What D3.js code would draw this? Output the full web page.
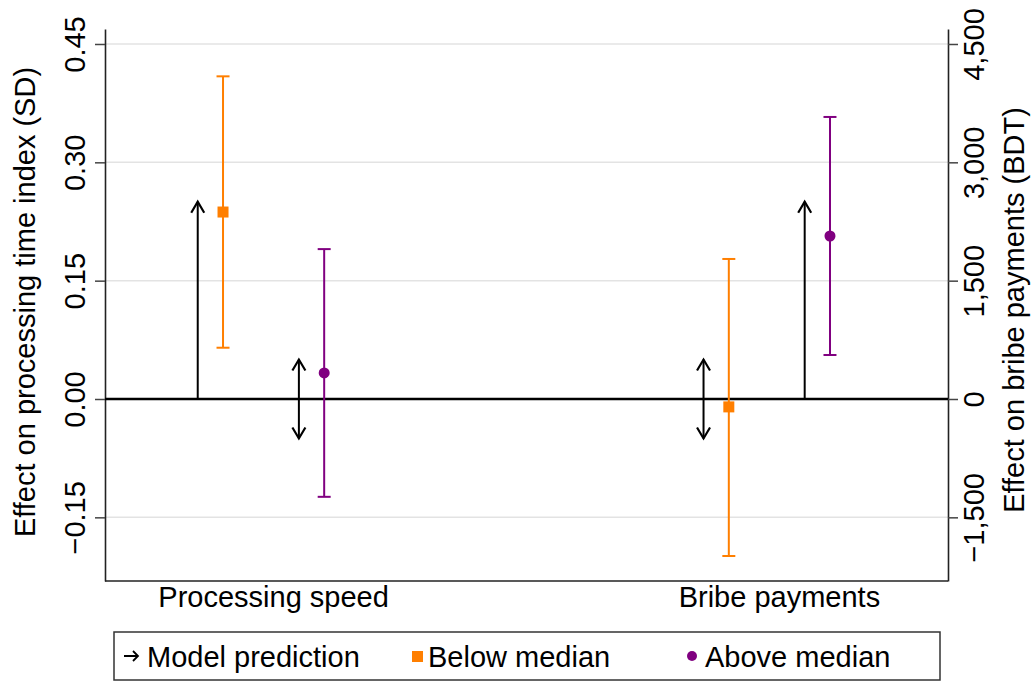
<!DOCTYPE html>
<html>
<head>
<meta charset="utf-8">
<script src="https://cdn.jsdelivr.net/npm/d3@7"></script>
<style>
  body { margin: 0; background: #fff; }
  text { font-family: "Liberation Sans", Arial, Helvetica, sans-serif; fill: #000; }
</style>
</head>
<body>
<div id="chart"></div>
<script>
// Chart data (processing speed in SD, bribe payments in BDT)
const categories = ["Processing speed", "Bribe payments"];
const groups = ["Below median", "Above median"];

const estBelow = [0.237, -100];
const ciBelowLo = [0.065, -1990];
const ciBelowHi = [0.409, 1775];

const estAbove = [0.033, 2066];
const ciAboveLo = [-0.124, 558];
const ciAboveHi = [0.190, 3575];

// model prediction: "up" = positive effect, "both" = ambiguous sign
const predBelow = ["up", "both"];
const predAbove = ["both", "up"];
const predUpLength = [0.25, 2500];
const predBothHalf = [0.05, 500];

const leftTicks = [-0.15, 0, 0.15, 0.30, 0.45];
const rightTicks = [-1500, 0, 1500, 3000, 4500];

const WIDTH = 1034, HEIGHT = 681;
const PLOT = {left: 105, right: 948, top: 29, bottom: 581};
const ORANGE = "#ff7f00", PURPLE = "#800080";

const svg = d3.select("#chart").append("svg")
    .attr("width", WIDTH)
    .attr("height", HEIGHT);

const xScale = d3.scaleLinear()
    .domain([-1/3, 4/3])
    .range([PLOT.left, PLOT.right]);

const yLeft = d3.scaleLinear()
    .domain([-0.2307, 0.469])
    .range([PLOT.bottom, PLOT.top]);

const yRight = d3.scaleLinear()
    .domain([-2307, 4690])
    .range([PLOT.bottom, PLOT.top]);

const yScales = [yLeft, yRight];

// gridlines
svg.append("g")
  .selectAll("line")
  .data(leftTicks.filter(d => d !== 0))
  .enter()
  .append("line")
    .attr("x1", PLOT.left)
    .attr("x2", PLOT.right)
    .attr("y1", d => yLeft(d))
    .attr("y2", d => yLeft(d))
    .attr("stroke", "#e3e3e3")
    .attr("stroke-width", 1.5);

// left axis
const axL = svg.append("g")
    .attr("transform", "translate(" + PLOT.left + ",0)")
    .call(d3.axisLeft(yLeft).tickValues(leftTicks).tickSize(10).tickSizeOuter(0)
      .tickFormat(d3.format(".2f")));
axL.select(".domain").attr("stroke", "#222").attr("stroke-width", 1.6);
axL.selectAll(".tick line").attr("stroke", "#444").attr("stroke-width", 1.5);
axL.selectAll(".tick text")
    .attr("transform", "rotate(-90)")
    .attr("text-anchor", "middle")
    .attr("x", 0)
    .attr("y", -20)
    .attr("dy", 0)
    .attr("font-size", "29px")
    .attr("font-family", "Liberation Sans, Arial, sans-serif")
    .attr("fill", "#000");

// right axis
const axR = svg.append("g")
    .attr("transform", "translate(" + PLOT.right + ",0)")
    .call(d3.axisRight(yRight).tickValues(rightTicks).tickSize(10).tickSizeOuter(0)
      .tickFormat(d3.format(",")));
axR.select(".domain").attr("stroke", "#222").attr("stroke-width", 1.6);
axR.selectAll(".tick line").attr("stroke", "#444").attr("stroke-width", 1.5);
axR.selectAll(".tick text")
    .attr("transform", "rotate(-90)")
    .attr("text-anchor", "middle")
    .attr("x", 0)
    .attr("y", 36)
    .attr("dy", 0)
    .attr("font-size", "29px")
    .attr("font-family", "Liberation Sans, Arial, sans-serif")
    .attr("fill", "#000");

// bottom border
svg.append("line")
    .attr("x1", PLOT.left).attr("x2", PLOT.right)
    .attr("y1", PLOT.bottom).attr("y2", PLOT.bottom)
    .attr("stroke", "#222").attr("stroke-width", 1.6);

// zero line
svg.append("line")
    .attr("x1", PLOT.left).attr("x2", PLOT.right)
    .attr("y1", yLeft(0)).attr("y2", yLeft(0))
    .attr("stroke", "#000").attr("stroke-width", 2.4);

// axis titles
svg.append("text")
    .attr("transform", "translate(35," + 302 + ") rotate(-90)")
    .attr("text-anchor", "middle")
    .attr("font-size", "29px")
    .text("Effect on processing time index (SD)");

svg.append("text")
    .attr("transform", "translate(1024," + 310 + ") rotate(-90)")
    .attr("text-anchor", "middle")
    .attr("font-size", "29px")
    .text("Effect on bribe payments (BDT)");

// category labels
svg.append("g")
  .selectAll("text")
  .data(categories)
  .enter()
  .append("text")
    .attr("x", (d, i) => xScale(i))
    .attr("y", 607)
    .attr("text-anchor", "middle")
    .attr("font-size", "29px")
    .text(d => d);

// arrows for model prediction
function drawArrow(g, x, y1, y2, heads) {
  g.append("line")
    .attr("x1", x).attr("x2", x)
    .attr("y1", y1).attr("y2", y2)
    .attr("stroke", "#000").attr("stroke-width", 2);
  heads.forEach(function(tip) {
    const dir = tip < (y1 + y2) / 2 ? 1 : -1;
    g.append("path")
      .attr("d", "M" + (x - 6.5) + "," + (tip + dir * 11) + "L" + x + "," + tip + "L" + (x + 6.5) + "," + (tip + dir * 11))
      .attr("fill", "none")
      .attr("stroke", "#000")
      .attr("stroke-width", 2.2);
  });
}

const arrowG = svg.append("g");
const preds = [predBelow, predAbove];
const predOffset = [-0.15, 0.05];
categories.forEach(function(c, i) {
  const y = yScales[i];
  preds.forEach(function(p, g) {
    const x = xScale(i + predOffset[g]);
    if (p[i] === "up") {
      drawArrow(arrowG, x, y(0), y(predUpLength[i]), [y(predUpLength[i])]);
    } else {
      drawArrow(arrowG, x, y(-predBothHalf[i]), y(predBothHalf[i]),
        [y(predBothHalf[i]), y(-predBothHalf[i])]);
    }
  });
});

// error bars and point estimates
const series = [
  {est: estBelow, lo: ciBelowLo, hi: ciBelowHi, color: ORANGE, offset: -0.1, shape: "square"},
  {est: estAbove, lo: ciAboveLo, hi: ciAboveHi, color: PURPLE, offset: 0.1, shape: "circle"}
];

const ciG = svg.append("g");
series.forEach(function(s) {
  categories.forEach(function(c, i) {
    const y = yScales[i];
    const x = xScale(i + s.offset);
    ciG.append("line")
      .attr("x1", x).attr("x2", x)
      .attr("y1", y(s.lo[i])).attr("y2", y(s.hi[i]))
      .attr("stroke", s.color).attr("stroke-width", 2);
    [s.lo[i], s.hi[i]].forEach(function(v) {
      ciG.append("line")
        .attr("x1", x - 6.5).attr("x2", x + 6.5)
        .attr("y1", y(v)).attr("y2", y(v))
        .attr("stroke", s.color).attr("stroke-width", 2);
    });
    if (s.shape === "square") {
      ciG.append("rect")
        .attr("x", x - 5.5).attr("y", y(s.est[i]) - 5.5)
        .attr("width", 11).attr("height", 11)
        .attr("fill", s.color);
    } else {
      ciG.append("circle")
        .attr("cx", x).attr("cy", y(s.est[i]))
        .attr("r", 5.5)
        .attr("fill", s.color);
    }
  });
});

// legend
const legend = svg.append("g");
legend.append("rect")
    .attr("x", 114).attr("y", 632)
    .attr("width", 826).attr("height", 48)
    .attr("fill", "#fff")
    .attr("stroke", "#333").attr("stroke-width", 1.5);

legend.append("path")
    .attr("d", "M124,656L138,656M133,651L138,656L133,661")
    .attr("fill", "none").attr("stroke", "#000").attr("stroke-width", 1.8);
legend.append("text").attr("x", 147).attr("y", 667).attr("font-size", "29px").text("Model prediction");

legend.append("rect")
    .attr("x", 412).attr("y", 651).attr("width", 11).attr("height", 11)
    .attr("fill", ORANGE);
legend.append("text").attr("x", 428).attr("y", 667).attr("font-size", "29px").text(groups[0]);

legend.append("circle")
    .attr("cx", 692).attr("cy", 656).attr("r", 5)
    .attr("fill", PURPLE);
legend.append("text").attr("x", 705).attr("y", 667).attr("font-size", "29px").text(groups[1]);
</script>
</body>
</html>
